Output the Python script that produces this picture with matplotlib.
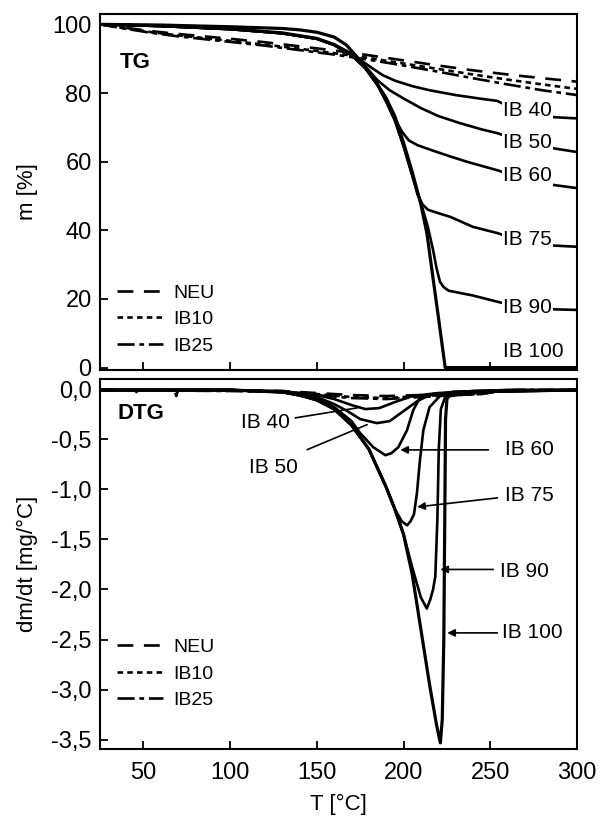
import matplotlib
matplotlib.use("Agg")
import matplotlib.pyplot as plt
from matplotlib.ticker import FuncFormatter

plt.rcParams['font.family'] = ['Liberation Sans', 'DejaVu Sans']

# ---------------- TG data (mass %, vs temperature °C) ----------------
T_tg_dash = [25, 40, 55, 70, 85, 100, 120, 140, 160, 180, 200, 220, 240, 260, 280, 300]
m_neu = [100, 99.0, 98.0, 97.2, 96.5, 95.8, 94.8, 93.6, 92.4, 91.0, 89.5, 88.0, 86.6, 85.4, 84.3, 83.3]
m_ib10 = [100, 98.8, 97.7, 96.8, 96.0, 95.2, 94.1, 92.9, 91.6, 90.2, 88.6, 87.0, 85.4, 83.9, 82.5, 81.2]
m_ib25 = [100, 98.7, 97.5, 96.5, 95.7, 94.9, 93.8, 92.5, 91.2, 89.7, 88.0, 86.2, 84.3, 82.5, 80.8, 79.4]

T_ib40 = [25, 60, 100, 130, 150, 160, 170, 176, 182, 188, 195, 205, 215, 230, 245, 254, 263, 272, 285, 300]
m_ib40 = [100, 99.6, 98.8, 97.6, 96.0, 94.2, 91.5, 89.3, 87.2, 85.2, 83.6, 82.0, 80.8, 79.4, 78.3, 77.7, 75.5, 73.6, 73.0, 72.6]

T_ib50 = [25, 60, 100, 130, 150, 160, 170, 176, 180, 185, 192, 200, 210, 220, 232, 245, 254, 263, 272, 285, 300]
m_ib50 = [100, 99.5, 98.6, 97.4, 95.8, 94.0, 91.2, 88.8, 86.6, 83.7, 80.8, 78.4, 75.6, 73.3, 71.3, 69.4, 68.3, 66.8, 65.4, 64.0, 62.8]

T_ib60 = [25, 60, 100, 130, 150, 160, 170, 178, 185, 190, 195, 199, 203, 208, 217, 227, 237, 254, 265, 276, 288, 300]
m_ib60 = [100, 99.5, 98.6, 97.4, 95.8, 94.0, 91.0, 87.3, 82.5, 77.8, 72.5, 68.8, 66.2, 64.8, 63.2, 61.5, 59.9, 57.5, 55.7, 54.0, 53.1, 52.3]

T_ib75 = [25, 60, 100, 130, 150, 160, 170, 178, 185, 190, 195, 200, 205, 208, 211, 214, 220, 227, 240, 254, 263, 272, 285, 300]
m_ib75 = [100, 99.5, 98.6, 97.4, 95.8, 94.0, 91.0, 87.2, 82.3, 77.5, 72.0, 64.5, 56.0, 50.5, 47.5, 46.0, 45.0, 43.9, 41.0, 39.2, 37.7, 36.2, 35.6, 35.2]

T_ib90 = [25, 60, 100, 130, 150, 160, 170, 178, 185, 190, 195, 200, 205, 210, 214, 217, 219, 221, 223, 226, 232, 240, 254, 263, 272, 285, 300]
m_ib90 = [100, 99.5, 98.6, 97.4, 95.8, 94.0, 91.0, 87.2, 82.3, 77.5, 72.0, 64.5, 56.0, 48.0, 41.0, 34.3, 29.0, 25.0, 23.5, 22.4, 21.8, 21.0, 19.2, 18.1, 17.3, 17.0, 16.8]

T_ib100 = [25, 60, 100, 130, 140, 150, 160, 167, 173, 180, 185, 190, 195, 200, 205, 210, 213.5, 217, 220, 222, 224, 226, 300]
m_ib100 = [100, 99.8, 99.3, 98.8, 98.4, 97.7, 96.3, 94.0, 90.6, 86.0, 82.5, 78.5, 73.2, 65.5, 57.0, 47.5, 39.0, 26.0, 15.0, 7.5, 0.0, 0.0, 0.0]

# ---------------- DTG data (mg/°C) ----------------
T_d_neu = [25, 45, 46, 47, 68, 69, 70, 100, 130, 150, 170, 190, 210, 230, 245, 255, 265, 300]
d_neu = [-0.01, -0.01, -0.03, -0.01, -0.01, -0.07, -0.01, -0.01, -0.02, -0.04, -0.06, -0.07, -0.06, -0.06, -0.05, -0.02, -0.01, -0.01]
T_d_ib = [25, 100, 130, 150, 170, 190, 210, 230, 245, 255, 265, 300]
d_ib10 = [-0.01, -0.01, -0.03, -0.05, -0.08, -0.09, -0.07, -0.05, -0.04, -0.02, -0.01, -0.01]
d_ib25 = [-0.01, -0.02, -0.03, -0.06, -0.09, -0.10, -0.08, -0.06, -0.05, -0.02, -0.01, -0.01]

T_d40 = [25, 100, 130, 150, 160, 170, 178, 186, 195, 205, 220, 240, 260, 300]
d_ib40 = [-0.01, -0.01, -0.02, -0.06, -0.10, -0.16, -0.20, -0.19, -0.13, -0.07, -0.04, -0.02, -0.01, -0.01]

T_d50 = [25, 100, 130, 150, 160, 167.6, 175, 184.6, 192, 200, 208, 215, 230, 260, 300]
d_ib50 = [-0.01, -0.01, -0.03, -0.08, -0.15, -0.22, -0.30, -0.34, -0.32, -0.22, -0.12, -0.06, -0.03, -0.01, -0.01]

T_d60 = [25, 100, 130, 150, 160, 170, 175, 182.5, 189.5, 193, 197, 202, 205.6, 209.6, 217, 240, 300]
d_ib60 = [-0.01, -0.01, -0.03, -0.10, -0.18, -0.32, -0.44, -0.58, -0.66, -0.64, -0.58, -0.41, -0.21, -0.08, -0.05, -0.02, -0.01]

T_d75 = [25, 100, 130, 140, 150, 160, 170, 180, 190, 195, 199, 202, 204, 206, 207.7, 209.5, 211.4, 215, 221, 240, 300]
d_ib75 = [-0.01, -0.01, -0.03, -0.06, -0.11, -0.20, -0.36, -0.60, -0.98, -1.20, -1.32, -1.36, -1.32, -1.25, -1.04, -0.70, -0.41, -0.18, -0.07, -0.03, -0.01]

T_d90 = [25, 100, 130, 140, 150, 160, 170, 180, 190, 195, 200, 205, 210, 213.4, 215.4, 217, 218.3, 219.5, 220.3, 221.5, 224, 240, 300]
d_ib90 = [-0.01, -0.01, -0.03, -0.06, -0.11, -0.20, -0.36, -0.60, -0.98, -1.20, -1.45, -1.78, -2.08, -2.19, -2.10, -2.00, -1.87, -1.30, -0.60, -0.20, -0.08, -0.03, -0.01]

T_d100 = [25, 100, 130, 140, 150, 160, 170, 180, 190, 195, 200, 205, 210, 215, 219, 221.2, 222.3, 223.2, 223.8, 224.2, 225, 228, 300]
d_ib100 = [-0.01, -0.01, -0.03, -0.06, -0.11, -0.20, -0.36, -0.60, -0.98, -1.20, -1.45, -1.85, -2.40, -2.95, -3.35, -3.53, -3.30, -2.50, -1.20, -0.30, -0.10, -0.03, -0.01]

x_ticks = [50, 100, 150, 200, 250, 300]
tg_ticks = [0, 20, 40, 60, 80, 100]
dtg_ticks = [0.0, -0.5, -1.0, -1.5, -2.0, -2.5, -3.0, -3.5]

# ---------------- figure ----------------
fig = plt.figure(figsize=(6.0, 8.27), dpi=100)
ax1 = fig.add_axes([0.1667, 0.5526, 0.795, 0.4304])
ax2 = fig.add_axes([0.1667, 0.094, 0.795, 0.4477])

K = 'black'
LW = 1.9
sty_neu = dict(color=K, lw=LW, dashes=(6, 4))
sty_ib10 = dict(color=K, lw=LW, dashes=(2.1, 1.6))
sty_ib25 = dict(color=K, lw=LW, dashes=(6.5, 1.8, 1.8, 1.8))
LBL = 15

# TG
ax1.plot(T_tg_dash, m_neu, label='NEU', **sty_neu)
ax1.plot(T_tg_dash, m_ib10, label='IB10', **sty_ib10)
ax1.plot(T_tg_dash, m_ib25, label='IB25', **sty_ib25)
for T, m in [(T_ib40, m_ib40), (T_ib50, m_ib50), (T_ib60, m_ib60),
             (T_ib75, m_ib75), (T_ib90, m_ib90)]:
    ax1.plot(T, m, color=K, lw=LW)
ax1.plot(T_ib100, m_ib100, color=K, lw=2.3)

tg_labels = [('IB 40', 75.0), ('IB 50', 65.7), ('IB 60', 56.1),
             ('IB 75', 37.2), ('IB 90', 17.4), ('IB 100', 4.6)]
for txt, y in tg_labels:
    ax1.text(257.5, y, txt, fontsize=LBL, ha='left', va='center', zorder=5,
             bbox=dict(facecolor='white', edgecolor='none', pad=0.8))
ax1.text(36.5, 89, 'TG', fontsize=16, fontweight='bold', ha='left', va='center')

ax1.set_xlim(25, 300)
ax1.set_ylim(-0.7, 103)
ax1.set_xticks(x_ticks)
ax1.set_yticks(tg_ticks)
ax1.tick_params(axis='x', labelbottom=False)
ax1.set_ylabel('m [%]', fontsize=16)
ax1.yaxis.set_label_coords(-0.13, 0.5)
ax1.legend(loc='upper left', bbox_to_anchor=(0.035, 0.241), frameon=False,
           fontsize=14, handlelength=2.4, handletextpad=0.5, labelspacing=0.45,
           borderpad=0, borderaxespad=0)

# DTG
ax2.plot(T_d_neu, d_neu, label='NEU', **sty_neu)
ax2.plot(T_d_ib, d_ib10, label='IB10', **sty_ib10)
ax2.plot(T_d_ib, d_ib25, label='IB25', **sty_ib25)
for T, d in [(T_d40, d_ib40), (T_d50, d_ib50), (T_d60, d_ib60),
             (T_d75, d_ib75), (T_d90, d_ib90)]:
    ax2.plot(T, d, color=K, lw=LW)
ax2.plot(T_d100, d_ib100, color=K, lw=2.3)

arrow_head = dict(arrowstyle='-|>', color=K, lw=1.2, mutation_scale=11,
                  shrinkA=0, shrinkB=0)
arrow_plain = dict(arrowstyle='-', color=K, lw=1.2, shrinkA=0, shrinkB=0)
# (label, text x, text y, ha, line start, line end, style)
dtg_notes = [
    ('IB 40', 134.6, -0.337, 'right', (137.5, -0.288), (173.3, -0.188), arrow_plain),
    ('IB 50', 139.0, -0.78, 'right', (144.4, -0.605), (179.0, -0.355), arrow_plain),
    ('IB 60', 258.7, -0.607, 'left', (248.9, -0.607), (198.1, -0.607), arrow_head),
    ('IB 75', 258.7, -1.066, 'left', (254.1, -1.086), (207.9, -1.176), arrow_head),
    ('IB 90', 255.8, -1.824, 'left', (251.8, -1.80), (221.2, -1.80), arrow_head),
    ('IB 100', 257.0, -2.433, 'left', (254.1, -2.433), (225.2, -2.433), arrow_head),
]
for txt, tx, ty, ha, p0, p1, st in dtg_notes:
    ax2.text(tx, ty, txt, fontsize=LBL, ha=ha, va='center')
    ax2.annotate('', xy=p1, xytext=p0, arrowprops=st)
ax2.text(35, -0.24, 'DTG', fontsize=16, fontweight='bold', ha='left', va='center')

ax2.set_xlim(25, 300)
ax2.set_ylim(-3.594, 0.1)
ax2.set_xticks(x_ticks)
ax2.set_yticks(dtg_ticks)
ax2.yaxis.set_major_formatter(FuncFormatter(lambda v, p: f'{v:.1f}'.replace('.', ',')))
ax2.set_ylabel('dm/dt [mg/°C]', fontsize=16)
ax2.yaxis.set_label_coords(-0.13, 0.5)
ax2.set_xlabel('T [°C]', fontsize=16, labelpad=7)
ax2.legend(loc='upper left', bbox_to_anchor=(0.035, 0.299), frameon=False,
           fontsize=14, handlelength=2.4, handletextpad=0.5, labelspacing=0.45,
           borderpad=0, borderaxespad=0)

for ax in (ax1, ax2):
    for s in ax.spines.values():
        s.set_linewidth(1.5)
    ax.tick_params(direction='in', length=6, width=1.3, labelsize=17,
                   top=False, right=False)
    ax.tick_params(axis='y', pad=6)
    ax.tick_params(axis='x', pad=9)

fig.savefig('out.png', dpi=100)
